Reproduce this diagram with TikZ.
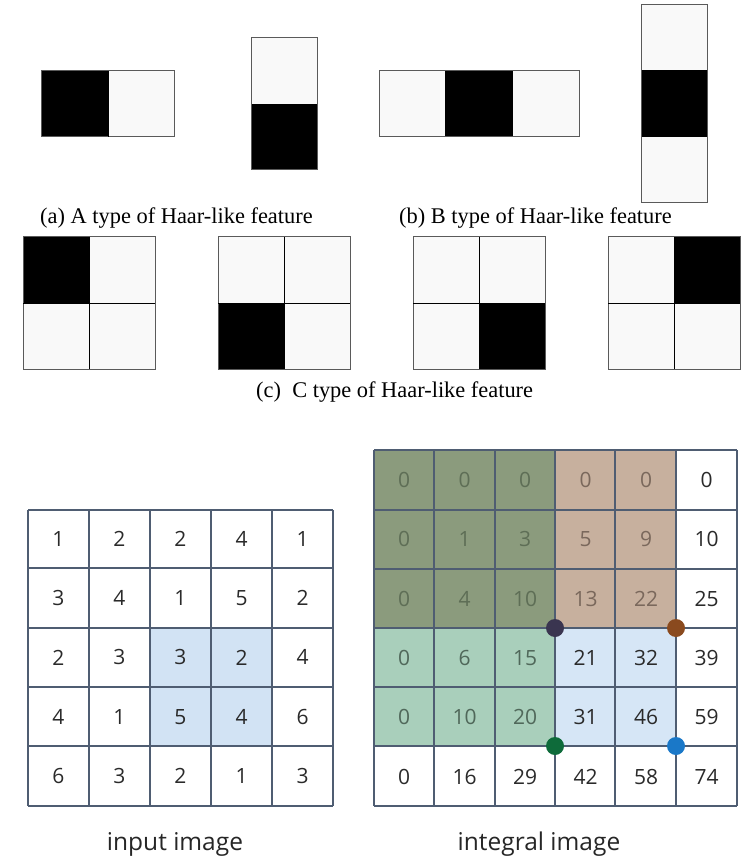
\documentclass[tikz,border=0pt]{standalone}
\usepackage{fontspec}
\setmainfont{Liberation Serif}
\newfontfamily\numfont{Open Sans}
\definecolor{offw}{HTML}{F9F9F9}
\definecolor{haaredge}{HTML}{5A5A5A}
\definecolor{gridline}{HTML}{4F5D72}
\definecolor{hlblue}{HTML}{D2E3F4}
\definecolor{rgdark}{HTML}{8B9B7D}
\definecolor{rbrown}{HTML}{C7B09E}
\definecolor{rgreen}{HTML}{A9CFBB}
\definecolor{rblue}{HTML}{D6E6F6}
\definecolor{tg}{HTML}{5E6E56}
\definecolor{tb}{HTML}{7A685C}
\definecolor{tl}{HTML}{50685A}
\definecolor{tk}{HTML}{2A2A2A}
\definecolor{dnavy}{HTML}{3A3550}
\definecolor{dbrown}{HTML}{8A4A1E}
\definecolor{dgreen}{HTML}{0E6B3A}
\definecolor{dblue}{HTML}{1A78C8}
\tikzset{
  haar/.style={draw=haaredge, line width=1pt},
  divline/.style={draw=black, line width=0.9pt},
  blk/.style={fill=black},
  wht/.style={fill=offw},
  captext/.style={font=\fontsize{22.4}{26}\selectfont, text=black, inner sep=0pt},
  gridl/.style={draw=gridline, line width=1.5pt},
  num/.style={font=\numfont\fontsize{21}{24}\selectfont, inner sep=0pt},
  lbl/.style={font=\numfont\fontsize{24.5}{28}\selectfont, text=black!85, inner sep=0pt},
  dot/.style={circle, minimum size=18pt, inner sep=0pt},
}
\begin{document}
\begin{tikzpicture}[x=1pt,y=-1pt]
\useasboundingbox (0,0) rectangle (744,858);
% ---------- (a) ----------
\fill[blk] (41,71) rectangle (108,137);
\fill[wht] (108,71) rectangle (174,137);
\draw[haar] (41,71) rectangle (174,137);
\draw[divline] (108,71) -- (108,137);
\fill[wht] (251,38) rectangle (317,104);
\fill[blk] (251,104) rectangle (317,170);
\draw[haar] (251,38) rectangle (317,170);
\node[captext, anchor=base west] (capA) at (40,224) {(a) A type of Haar-like feature};
% ---------- (b) ----------
\fill[wht] (379,71) rectangle (445,137);
\fill[blk] (445,71) rectangle (513,137);
\fill[wht] (513,71) rectangle (579,137);
\draw[haar] (379,71) rectangle (579,137);
\fill[wht] (641,5) rectangle (707,70);
\fill[blk] (641,70) rectangle (707,137);
\fill[wht] (641,137) rectangle (707,203);
\draw[haar] (641,5) rectangle (707,203);
\node[captext, anchor=base west] (capB) at (399,224) {(b) B type of Haar-like feature};
% ---------- (c) ----------
\foreach \xo/\bi/\bj [count=\k] in {23/0/0, 218/0/1, 413/1/1, 608/1/0} {
  \fill[wht] (\xo,237) rectangle ++(132,132);
  \fill[blk] ({\xo+66*\bi},{237+66*\bj}) rectangle ++(66,66);
  \draw[haar] (\xo,237) rectangle ++(132,132);
  \draw[divline] ({\xo+66},237) -- ++(0,132);
  \draw[divline] (\xo,303) -- ++(132,0);
}
\node[captext, anchor=base west] (capC) at (256,397) {(c)\ \ C type of Haar-like feature};
% ---------- input image ----------
\fill[hlblue] (150,628) rectangle (272,746);
\foreach \xx in {28,89,150,211,272,333} \draw[gridl] (\xx,510) -- (\xx,806);
\foreach \yy in {510,568,628,687,746,806} \draw[gridl] (28,\yy) -- (333,\yy);
\foreach \rowvals [count=\r from 0] in {{1,2,2,4,1},{3,4,1,5,2},{2,3,3,2,4},{4,1,5,4,6},{6,3,2,1,3}} {
  \foreach \v [count=\c from 0] in \rowvals {
    \node[num, text=tk] (in-\r-\c) at ({58.5+61*\c},{539+59.2*\r}) {\v};
  }
}
\node[lbl, anchor=base] (inlbl) at (175,850) {input image};
% ---------- integral image ----------
\fill[rgdark] (374,450) rectangle (555,628);
\fill[rbrown] (555,450) rectangle (676,628);
\fill[rgreen] (374,628) rectangle (555,746);
\fill[rblue] (555,628) rectangle (676,746);
\foreach \xx in {374,434,495,555,615,676,737} \draw[gridl] (\xx,450) -- (\xx,806);
\foreach \yy in {450,510,569,628,687,746,806} \draw[gridl] (374,\yy) -- (737,\yy);
\foreach \rowvals [count=\r from 0] in {
  {0/tg,0/tg,0/tg,0/tb,0/tb,0/tk},
  {0/tg,1/tg,3/tg,5/tb,9/tb,10/tk},
  {0/tg,4/tg,10/tg,13/tb,22/tb,25/tk},
  {0/tl,6/tl,15/tl,21/tk,32/tk,39/tk},
  {0/tl,10/tl,20/tl,31/tk,46/tk,59/tk},
  {0/tk,16/tk,29/tk,42/tk,58/tk,74/tk}} {
  \foreach \v/\cl [count=\c from 0] in \rowvals {
    \node[num, text=\cl] (ii-\r-\c) at ({404+60.5*\c},{480+59.3*\r}) {\v};
  }
}
\node[dot, fill=dnavy] (dA) at (555,628) {};
\node[dot, fill=dbrown] (dB) at (676,628) {};
\node[dot, fill=dgreen] (dC) at (555,746) {};
\node[dot, fill=dblue] (dD) at (676,746) {};
\node[lbl, anchor=base] (iilbl) at (539,850) {integral image};
\end{tikzpicture}
\end{document}
